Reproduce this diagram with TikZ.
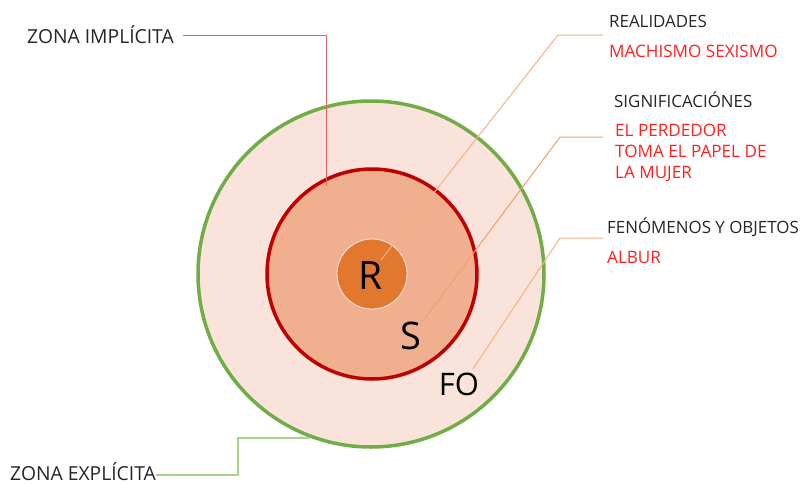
\documentclass[tikz,border=0pt]{standalone}
\usepackage{fontspec}
\setmainfont{Open Sans}
\definecolor{ringgreen}{HTML}{70AD47}
\definecolor{ringred}{HTML}{C00000}
\definecolor{outerfill}{HTML}{F9E3DA}
\definecolor{midfill}{HTML}{F0B090}
\definecolor{corefill}{HTML}{E2772E}
\definecolor{txtdark}{HTML}{262626}
\definecolor{txtred}{HTML}{FF2020}
\definecolor{leadorange}{HTML}{F4B183}
\definecolor{leadorangedk}{HTML}{EFA06E}
\definecolor{leadred}{HTML}{E06666}
\definecolor{leadgreen}{HTML}{A9D18E}
\tikzset{
  ring/.style={circle, inner sep=0pt},
  lbl/.style={anchor=base west, inner sep=0pt, text=txtdark, font=\fontsize{16.9}{20}\selectfont},
  lblred/.style={lbl, text=txtred, font=\fontsize{17.1}{20}\selectfont},
  zone/.style={anchor=base west, inner sep=0pt, text=txtdark, font=\fontsize{19.3}{22}\selectfont},
  leader/.style={line width=1pt},
  big/.style={inner sep=0pt, text=black}
}
\begin{document}
\begin{tikzpicture}[x=1pt,y=-1pt]
\useasboundingbox (0,0) rectangle (801,483);

% concentric zones
\node[ring, minimum size=346pt, fill=outerfill, draw=ringgreen, line width=3.5pt] (fo) at (371,274) {};
\node[ring, minimum size=210pt, fill=midfill, draw=ringred, line width=3.5pt] (s) at (372,274) {};
\node[ring, minimum size=70pt, fill=corefill, draw=white!85!corefill, line width=0.8pt] (r) at (372,274) {};

% ring letters
\node[big, font=\fontsize{39}{39}\selectfont] (rlet) at (371,276) {R};
\node[big, font=\fontsize{38}{38}\selectfont] (slet) at (411,336) {S};
\node[big, font=\fontsize{31}{31}\selectfont] (folet) at (459,384) {FO};

% zone labels on the left
\node[zone] (impl) at (27,43) {ZONA IMPLÍCITA};
\node[zone] (expl) at (10,480) {ZONA EXPLÍCITA};

% labels on the right
\node[lbl] (real) at (609,27) {REALIDADES};
\node[lblred] (mach) at (609,57) {MACHISMO SEXISMO};
\node[lbl] (sign) at (614,107) {SIGNIFICACIÓNES};
\node[lblred] (perd) at (615,136) {EL PERDEDOR};
\node[lblred] (toma) at (615,157) {TOMA EL PAPEL DE};
\node[lblred] (mujer) at (615,178) {LA MUJER};
\node[lbl] (fen) at (607,233) {FENÓMENOS Y OBJETOS};
\node[lblred] (albur) at (607,263) {ALBUR};

% leader line anchor points
\coordinate (rtip) at (381,260);
\coordinate (rbend) at (558,35);
\coordinate (rend) at (603,35);
\coordinate (stip) at (422,322);
\coordinate (sbend) at (560,137);
\coordinate (send) at (603,137);
\coordinate (ftip) at (473,369);
\coordinate (fbend) at (560,238);
\coordinate (fend) at (603,238);
\coordinate (ibend) at (326,35);
\coordinate (itip) at (326,186);
\coordinate (istart) at (183,35);
\coordinate (eend) at (310,438);
\coordinate (ebend) at (238,438);
\coordinate (ecorner) at (238,475);
\coordinate (estart) at (156,475);

% leader lines
\draw[leader, leadorange] (rtip) -- (rbend) -- (rend);
\draw[leader, leadorangedk] (stip) -- (sbend) -- (send);
\draw[leader, leadorange] (ftip) -- (fbend) -- (fend);
\draw[leader, leadred] (istart) -- (ibend) -- (itip);
\draw[leader, leadgreen, line width=1.5pt] (estart) -- (ecorner) -- (ebend) -- (eend);
\end{tikzpicture}
\end{document}
